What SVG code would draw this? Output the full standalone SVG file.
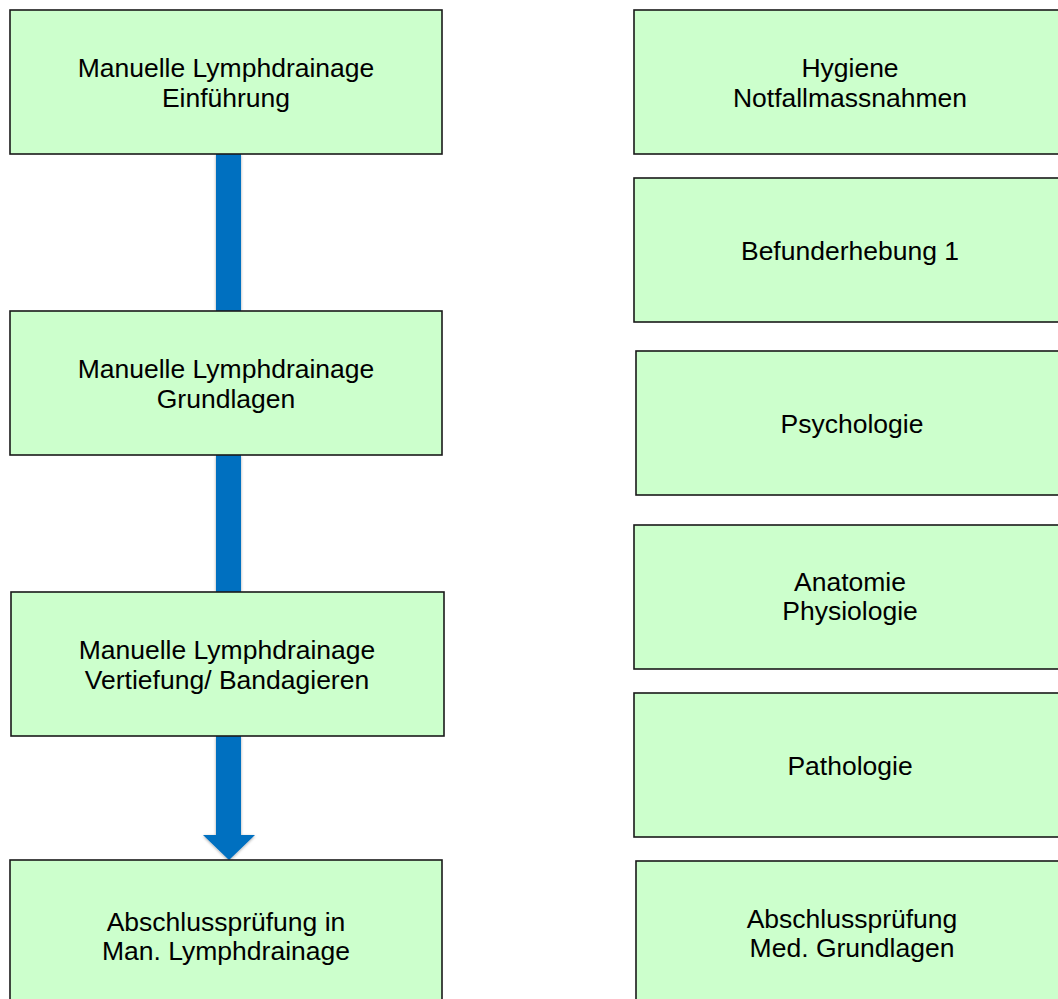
<svg xmlns="http://www.w3.org/2000/svg" width="1058" height="999" viewBox="0 0 1058 999">
<defs>
<style>
.box{fill:#CCFFCC;stroke:#1a1a1a;stroke-width:1.6}
.t{font-family:"Liberation Sans",Arial,sans-serif;font-size:26.5px;fill:#000;text-anchor:middle}
.conn{fill:#0070C0}
</style>
<filter id="sh" x="-50%" y="-10%" width="200%" height="120%">
<feGaussianBlur in="SourceAlpha" stdDeviation="1.5"/>
<feOffset dx="0" dy="1" result="b"/>
<feComponentTransfer><feFuncA type="linear" slope="0.35"/></feComponentTransfer>
<feMerge><feMergeNode/><feMergeNode in="SourceGraphic"/></feMerge>
</filter>
</defs>
<rect width="1058" height="999" fill="#fff"/>
<g id="connectors">
<rect class="conn" x="216" y="154" width="25" height="157" filter="url(#sh)"/>
<rect class="conn" x="216" y="455" width="25" height="137" filter="url(#sh)"/>
<path class="conn" d="M216,736 H241 V835 H255 L229,860 L203,835 H216 Z" filter="url(#sh)"/>
</g>
<g id="n1"><rect class="box" x="10" y="10" width="432" height="144"/><text class="t" x="226" y="77">Manuelle Lymphdrainage</text><text class="t" x="226" y="107">Einführung</text></g>
<g id="n2"><rect class="box" x="10" y="311" width="432" height="144"/><text class="t" x="226" y="378">Manuelle Lymphdrainage</text><text class="t" x="226" y="408">Grundlagen</text></g>
<g id="n3"><rect class="box" x="11" y="592" width="433" height="144"/><text class="t" x="227" y="659">Manuelle Lymphdrainage</text><text class="t" x="227" y="689">Vertiefung/ Bandagieren</text></g>
<g id="n4"><rect class="box" x="10" y="860" width="432" height="144"/><text class="t" x="226" y="931">Abschlussprüfung in</text><text class="t" x="226" y="960">Man. Lymphdrainage</text></g>
<g id="r1"><rect class="box" x="634" y="10" width="432" height="144"/><text class="t" x="850" y="77">Hygiene</text><text class="t" x="850" y="107">Notfallmassnahmen</text></g>
<g id="r2"><rect class="box" x="634" y="178" width="432" height="144"/><text class="t" x="850" y="260">Befunderhebung 1</text></g>
<g id="r3"><rect class="box" x="636" y="351" width="432" height="144"/><text class="t" x="852" y="433">Psychologie</text></g>
<g id="r4"><rect class="box" x="634" y="525" width="432" height="144"/><text class="t" x="850" y="591">Anatomie</text><text class="t" x="850" y="620">Physiologie</text></g>
<g id="r5"><rect class="box" x="634" y="693" width="432" height="144"/><text class="t" x="850" y="775">Pathologie</text></g>
<g id="r6"><rect class="box" x="636" y="861" width="432" height="144"/><text class="t" x="852" y="928">Abschlussprüfung</text><text class="t" x="852" y="957">Med. Grundlagen</text></g>
</svg>
